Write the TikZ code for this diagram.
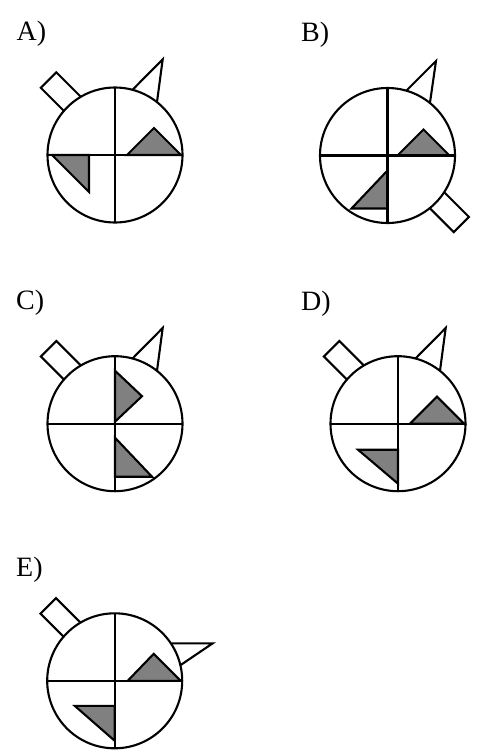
\documentclass[tikz,border=0pt]{standalone}
\usepackage{fontspec}
\setmainfont{Liberation Serif}
\usepackage{xcolor}
\usepackage{tikz}
\usetikzlibrary{positioning, calc}

\begin{document}
\begin{tikzpicture}[
    x=1pt, y=-1pt,
    figline/.style={line width=2.1pt, black},
    shadetri/.style={figline, fill=gray},
    optlabel/.style={anchor=base west, inner sep=0pt, font=\fontsize{28}{31}\selectfont}
]
\useasboundingbox (0,0) rectangle (478,753);

% Option labels
\node[optlabel] (labA) at (16.5,40.5) {A)};
\node[optlabel] (labB) at (301,41) {B)};
\node[optlabel] (labC) at (16,309.5) {C)};
\node[optlabel] (labD) at (301,310) {D)};
\node[optlabel] (labE) at (16,576.5) {E)};

% Option A
\begin{scope}[shift={(115,155)}]
    \draw[shadetri] (12,0) -- (66,0) -- (39,-27) -- cycle;
    \draw[shadetri] (-63,0) -- (-26,0) -- (-26,37) -- cycle;
    \draw[figline] (-67.5,0) -- (67.5,0);
    \draw[figline] (0,-67.5) -- (0,67.5);
    \draw[figline] (0,0) circle[radius=67.5pt];
    % rectangle and ear
    \draw[figline] (-51.1,-44.1) -- (-74.2,-67.2) -- (-58.7,-82.7) -- (-34.2,-58.2);
    \draw[figline] (17.3,-65) -- (47.7,-95.7) -- (42,-53);
\end{scope}

% Option B
\begin{scope}[shift={(387.5,155.5)}]
    \draw[shadetri] (10,0) -- (62,0) -- (36,-26) -- cycle;
    \draw[shadetri] (-36,53) -- (0,53) -- (0,15) -- cycle;
    \draw[figline] (-67.5,0) -- (67.5,0);
    \draw[figline] (0,-67.5) -- (0,67.5);
    \draw[figline] (0,0) circle[radius=67.5pt];
    % rectangle and ear
    \draw[figline] (42.2,52.6) -- (66.2,76.6) -- (81.4,61.4) -- (56.7,36.7);
    \draw[figline] (19,-65) -- (48.5,-94.5) -- (42.5,-53);
\end{scope}

% Option C
\begin{scope}[shift={(115,423.7)}]
    \draw[shadetri] (0,-53) -- (27,-27.5) -- (0,-2) -- cycle;
    \draw[shadetri] (0,14) -- (0,53) -- (37,53) -- cycle;
    \draw[figline] (-67.5,0) -- (67.5,0);
    \draw[figline] (0,-67.5) -- (0,67.5);
    \draw[figline] (0,0) circle[radius=67.5pt];
    % rectangle and ear
    \draw[figline] (-51.1,-44.1) -- (-74.2,-67.2) -- (-58.7,-82.7) -- (-34.2,-58.2);
    \draw[figline] (17.3,-65) -- (47.7,-95.7) -- (42,-53);
\end{scope}

% Option D
\begin{scope}[shift={(398,423.7)}]
    \draw[shadetri] (12,0) -- (66,0) -- (39,-27) -- cycle;
    \draw[shadetri] (-40,26) -- (0,26) -- (0,60) -- cycle;
    \draw[figline] (-67.5,0) -- (67.5,0);
    \draw[figline] (0,-67.5) -- (0,67.5);
    \draw[figline] (0,0) circle[radius=67.5pt];
    % rectangle and ear
    \draw[figline] (-51.1,-44.1) -- (-74.2,-67.2) -- (-58.7,-82.7) -- (-34.2,-58.2);
    \draw[figline] (17.3,-65) -- (47.7,-95.7) -- (42,-53);
\end{scope}

% Option E
\begin{scope}[shift={(114.7,680.8)}]
    \draw[shadetri] (13,0) -- (66,0) -- (39,-27) -- cycle;
    \draw[shadetri] (-40,25) -- (0,25) -- (0,60) -- cycle;
    \draw[figline] (-67.5,0) -- (67.5,0);
    \draw[figline] (0,-67.5) -- (0,67.5);
    \draw[figline] (0,0) circle[radius=67.5pt];
    % rectangle and ear
    \draw[figline] (-51.1,-44.1) -- (-74.2,-67.2) -- (-58.7,-82.7) -- (-34.2,-58.2);
    \draw[figline] (57,-37.5) -- (98,-37.5) -- (66,-15.8);
\end{scope}

\end{tikzpicture}
\end{document}
